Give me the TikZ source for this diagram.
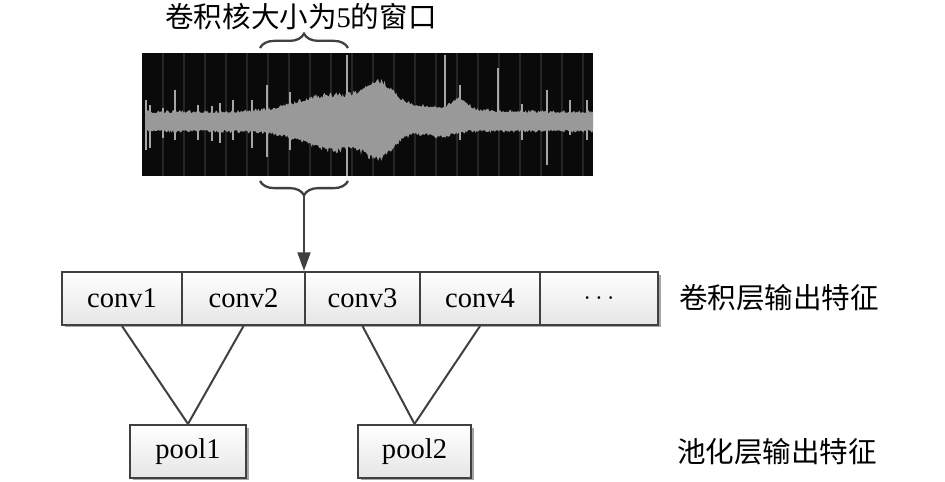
\documentclass[tikz,border=0pt]{standalone}
\usepackage{fontspec}
\setmainfont{Liberation Serif}
\newfontfamily\cjk{Noto Sans CJK SC}
\usetikzlibrary{arrows.meta,decorations.pathreplacing,shadows}

\begin{document}
\begin{tikzpicture}[x=0.35pt,y=-0.35pt,
    box/.style={draw=black!75, line width=0.8pt, top color=white, bottom color=black!10,
      minimum height=18.5pt, inner sep=0pt,
      drop shadow={shadow xshift=0.9pt, shadow yshift=-0.9pt, opacity=0.35, fill=black}},
    link/.style={draw=black!75, line width=0.7pt},
    wbrace/.style={draw=black!75, line width=0.8pt, decorate, decoration={brace, amplitude=5pt}},
    spike/.style={draw=black!35, line width=0.4pt},
    declare function={
      gs(\xx,\cc,\ww)=exp(-min(20,((\xx-\cc)/\ww)^2));
      up(\xx)=9+8*gs(\xx,345,55)+8*gs(\xx,320,40)+20*gs(\xx,378,20)+10*gs(\xx,460,10)+5*gs(\xx,420,60);
      lo(\xx)=8+10*gs(\xx,345,55)+8*gs(\xx,330,35)+18*gs(\xx,380,18)+5*gs(\xx,440,15);
    }]
  \useasboundingbox (0,0) rectangle (945,482);
  \pgfmathsetseed{7}

  % title and window braces
  \node (title) at (301,17) {{\cjk 卷积核大小为}5{\cjk 的窗口}};
  \draw[wbrace] (260,48) -- (348,48);

  % waveform
  \fill[black!96] (142,53) rectangle (593,176);
  \foreach \gx in {163,184,...,590}
    \draw[black!85, line width=0.4pt] (\gx,53) -- (\gx,176);
  \foreach \sx/\sa/\sb in {146/100/150, 150/105/148, 163/108/138, 175/90/140, 198/105/140,
      212/106/141, 220/103/143, 233/100/140, 252/100/148, 267/85/157, 290/92/150,
      347/55/176, 445/55/120, 460/85/140, 498/68/130, 522/104/140, 547/90/165,
      570/100/135, 587/100/140}
    \draw[spike] (\sx,\sa) -- (\sx,\sb);
  \fill[black!40] plot[domain=145:593, samples=420] (\x,{122-up(\x)-3*rnd^2*(1+gs(\x,360,60))})
    -- plot[domain=593:145, samples=420] (\x,{122+lo(\x)+3*rnd^2*(1+gs(\x,360,60))}) -- cycle;

  \draw[wbrace] (348,181) -- (260,181);
  \coordinate (tip) at (304,195);

  % convolution layer
  \node[box, minimum width=42pt]    (c1) at (122,298.5) {conv1};
  \node[box, minimum width=43.05pt] (c2) at (243.5,298.5) {conv2};
  \node[box, minimum width=40.25pt] (c3) at (362.5,298.5) {conv3};
  \node[box, minimum width=42pt]    (c4) at (480,298.5) {conv4};
  \node[box, minimum width=41.3pt]  (c5) at (599,298.5) {\small$\cdots$};
  \node (convlab) at (779,298) {\cjk 卷积层输出特征};

  \draw[link, line width=0.8pt, -{Triangle[length=6.5pt,width=4.5pt]}] (tip) -- (tip |- c3.north);

  % pooling layer
  \node[box, minimum width=40.6pt] (p1) at (188,451.5) {pool1};
  \node[box, minimum width=39.6pt] (p2) at (414.5,451.5) {pool2};
  \node (poollab) at (777,452) {\cjk 池化层输出特征};

  \draw[link] (c1.south) -- (p1.north);
  \draw[link] (c2.south) -- (p1.north);
  \draw[link] (c3.south) -- (p2.north);
  \draw[link] (c4.south) -- (p2.north);
\end{tikzpicture}
\end{document}
